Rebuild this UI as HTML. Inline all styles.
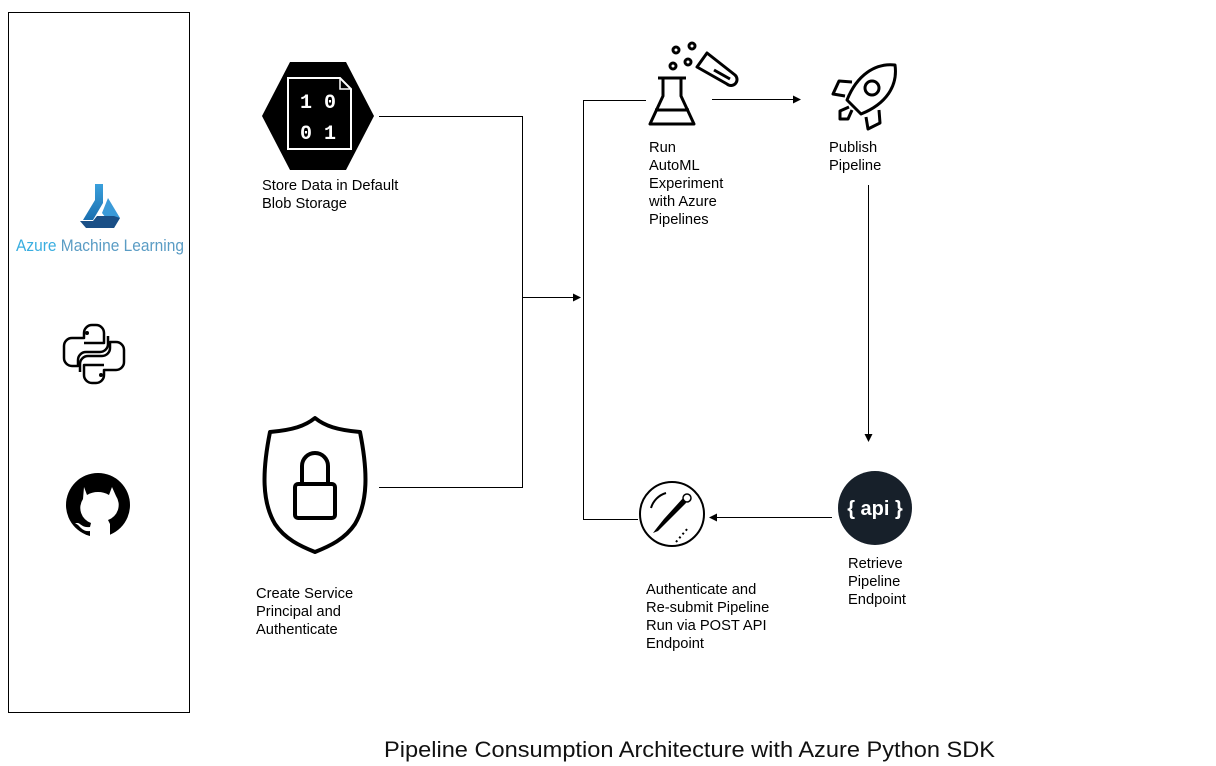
<!DOCTYPE html>
<html><head><meta charset="utf-8"><style>
html,body{margin:0;padding:0;background:#fff;}
svg{display:block;}
text{font-family:"Liberation Sans",Arial,sans-serif;font-size:14.7px;fill:#000;}
</style></head><body>
<svg width="1216" height="766" viewBox="0 0 1216 766" xmlns="http://www.w3.org/2000/svg">
<defs>
<marker id="ar" markerWidth="8" markerHeight="8" refX="7" refY="4" orient="auto" markerUnits="userSpaceOnUse">
<path d="M0,0 L8,4 L0,8 z" fill="#000"/></marker>
<linearGradient id="az" x1="0" y1="0" x2="0" y2="1"><stop offset="0" stop-color="#3aa0dc"/><stop offset="1" stop-color="#1a6fb0"/></linearGradient>
</defs>
<rect x="8.5" y="12.5" width="181" height="700" fill="none" stroke="#000" stroke-width="1"/>
<polygon points="95,184 103,184 103,203 93,220 83,220 95,200" fill="url(#az)"/>
<polygon points="108,198 120,218 114,228 102,213" fill="#3a9ad8"/>
<polygon points="80,221 93,221 97,216 114,216 120,218 114,228 86,228" fill="#1a4f86"/>
<text x="16" y="251" style="font-size:16.5px;fill:#3aaee0" textLength="168" lengthAdjust="spacingAndGlyphs">Azure <tspan style="fill:#5a9cc4">Machine Learning</tspan></text>
<g fill="none" stroke="#000" stroke-width="2.5" stroke-linejoin="round">
<path d="M92,325 h4 a8,8 0 0 1 8,8 v10 h-20 M92,325 a8,8 0 0 0 -8,8 v5 h-12 a8,8 0 0 0 -8,8 v12 a8,8 0 0 0 8,8 h6 v-6 a8,8 0 0 1 8,-8 h14 a8,8 0 0 0 8,-8 v-8"/>
<path d="M96,383 h-4 a8,8 0 0 1 -8,-8 v-10 h20 M96,383 a8,8 0 0 0 8,-8 v-5 h12 a8,8 0 0 0 8,-8 v-12 a8,8 0 0 0 -8,-8 h-6 v6 a8,8 0 0 1 -8,8 h-14 a8,8 0 0 0 -8,8 v8"/>
</g>
<circle cx="87" cy="333" r="2" fill="#000"/><circle cx="101" cy="375" r="2" fill="#000"/>
<circle cx="98" cy="505" r="32" fill="#000"/>
<path d="M84,487 l3,8 a22,22 0 0 1 22,0 l3,-8 l4,9 a16,16 0 0 1 -8,24 l2,4 v13 h-20 v-6 c-6,1 -9,-3 -12,-6 l-3,-2 l3,0 c3,1 5,5 12,4 l1,-4 a16,16 0 0 1 -8,-24 z" fill="#fff"/>
<polygon points="290,62 346,62 374,116 346,170 290,170 262,116" fill="#000"/>
<path d="M288,78 h52 l11,11 v60 h-63 z" fill="none" stroke="#fff" stroke-width="2"/>
<path d="M340,78 v11 h11" fill="none" stroke="#fff" stroke-width="1.5"/>
<text x="318" y="108" text-anchor="middle" style="font-size:20px;font-weight:bold;fill:#fff;font-family:'Liberation Mono',monospace">1 0</text>
<text x="318" y="139" text-anchor="middle" style="font-size:20px;font-weight:bold;fill:#fff;font-family:'Liberation Mono',monospace">0 1</text>
<text x="262" y="190">Store Data in Default</text>
<text x="262" y="208">Blob Storage</text>
<path d="M315,418 c10,8 22,12 45,14 c8,40 8,70 -5,92 c-10,15 -25,22 -40,28 c-15,-6 -30,-13 -40,-28 c-13,-22 -13,-52 -5,-92 c23,-2 35,-6 45,-14 z" fill="none" stroke="#000" stroke-width="4" stroke-linejoin="round"/>
<rect x="295" y="484" width="40" height="34" rx="3" fill="none" stroke="#000" stroke-width="4"/>
<path d="M302,484 v-18 a13,13 0 0 1 26,0 v18" fill="none" stroke="#000" stroke-width="4"/>
<text x="256" y="598">Create Service</text>
<text x="256" y="616">Principal and</text>
<text x="256" y="634">Authenticate</text>
<g fill="none" stroke="#000" stroke-width="1">
<path d="M379,116.5 H522.5 V487.5 H379"/>
<path d="M522,297.5 H580" marker-end="url(#ar)"/>
<path d="M646,100.5 H583.5 V519.5 H638"/>
<path d="M712,99.5 H800" marker-end="url(#ar)"/>
<path d="M868.5,185 V441" marker-end="url(#ar)"/>
<path d="M832,517.5 H710" marker-end="url(#ar)"/>
</g>
<g fill="none" stroke="#000" stroke-width="3" stroke-linejoin="round">
<path d="M663,78 v18 l-13,28 h44 l-13,-28 v-18"/>
<path d="M658,78 h28"/>
<path d="M655,110 h34"/>
<circle cx="676" cy="50" r="3"/><circle cx="692" cy="46" r="3"/><circle cx="673" cy="66" r="3"/><circle cx="688" cy="62" r="3"/>
<path d="M707,53 l-10,14 l30,17 a5,5 0 0 0 8,-9 z"/>
<path d="M714,70 l16,9"/>
</g>
<text x="649" y="152">Run</text>
<text x="649" y="170">AutoML</text>
<text x="649" y="188">Experiment</text>
<text x="649" y="206">with Azure</text>
<text x="649" y="224">Pipelines</text>
<g fill="none" stroke="#000" stroke-width="3" stroke-linejoin="round">
<path d="M895,65 c-20,-2 -38,10 -48,35 l14,14 c25,-10 37,-28 34,-49 z"/>
<circle cx="872" cy="88" r="7"/>
<path d="M852,82 l-13,-1 l-6,13 l12,2"/>
<path d="M879,110 l1,13 l-12,6 l-2,-12"/>
<path d="M849,107 l-9,4 l0,8 l8,0 l4,-9"/>
</g>
<text x="829" y="152">Publish</text>
<text x="829" y="170">Pipeline</text>
<circle cx="875" cy="508" r="37" fill="#17202a"/>
<text x="875" y="515" text-anchor="middle" style="font-size:20px;fill:#fff;font-weight:bold">{ api }</text>
<text x="848" y="568">Retrieve</text>
<text x="848" y="586">Pipeline</text>
<text x="848" y="604">Endpoint</text>
<circle cx="672" cy="514" r="32" fill="none" stroke="#000" stroke-width="2"/>
<path d="M651,508 a22,22 0 0 1 15,-15" fill="none" stroke="#000" stroke-width="2"/>
<path d="M684,497 l-20,22 l-8,10 l-3,4 l5,-2 l8,-8 l20,-20 z" fill="#000"/>
<circle cx="687" cy="498" r="4" fill="#fff" stroke="#000" stroke-width="1.5"/>
<path d="M676,542 l12,-14" stroke="#000" stroke-width="2" stroke-dasharray="2 3"/>
<text x="646" y="594">Authenticate and</text>
<text x="646" y="612">Re-submit Pipeline</text>
<text x="646" y="630">Run via POST API</text>
<text x="646" y="648">Endpoint</text>
<text x="384" y="757" style="font-size:22px;fill:#111" textLength="611" lengthAdjust="spacingAndGlyphs">Pipeline Consumption Architecture with Azure Python SDK</text>
</svg>
</body></html>
